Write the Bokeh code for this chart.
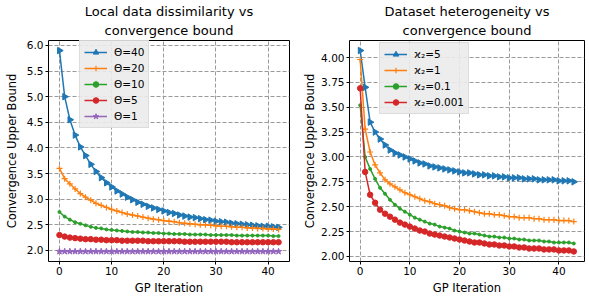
import math
from bokeh.plotting import figure
from bokeh.layouts import row
from bokeh.models import Range1d, FixedTicker, NumeralTickFormatter, Legend, LegendItem, Title
from bokeh.embed import file_html
from bokeh.resources import INLINE

# ---------------- data ----------------
iter_left = list(range(43))
theta40 = [5.90, 5.00, 4.55, 4.25, 4.02, 3.85, 3.68, 3.54, 3.42, 3.32,
           3.24, 3.16, 3.10, 3.04, 2.99, 2.94, 2.90, 2.86, 2.83, 2.80,
           2.77, 2.74, 2.72, 2.69, 2.67, 2.65, 2.64, 2.62, 2.60, 2.59,
           2.57, 2.56, 2.55, 2.53, 2.52, 2.51, 2.50, 2.49, 2.48, 2.47,
           2.47, 2.46, 2.45]
theta20 = [3.60, 3.40, 3.30, 3.20, 3.11, 3.04, 2.98, 2.92, 2.88, 2.84,
           2.80, 2.77, 2.74, 2.71, 2.69, 2.67, 2.65, 2.63, 2.61, 2.60,
           2.58, 2.57, 2.56, 2.54, 2.53, 2.52, 2.51, 2.50, 2.50, 2.49,
           2.48, 2.47, 2.47, 2.46, 2.45, 2.45, 2.44, 2.44, 2.43, 2.43,
           2.42, 2.42, 2.41]
theta10 = [2.75, 2.66, 2.60, 2.55, 2.52, 2.49, 2.46, 2.44, 2.43, 2.41,
           2.40, 2.39, 2.38, 2.37, 2.36, 2.36, 2.35, 2.35, 2.34, 2.34,
           2.33, 2.33, 2.32, 2.32, 2.32, 2.31, 2.31, 2.31, 2.31, 2.30,
           2.30, 2.30, 2.30, 2.30, 2.29, 2.29, 2.29, 2.29, 2.29, 2.29,
           2.29, 2.28, 2.28]
theta5 = [2.30, 2.27, 2.25, 2.24, 2.23, 2.22, 2.22, 2.21, 2.21, 2.20,
          2.20, 2.20, 2.19, 2.19, 2.19, 2.19, 2.19, 2.18, 2.18, 2.18,
          2.18, 2.18, 2.18, 2.18, 2.17, 2.17, 2.17, 2.17, 2.17, 2.17,
          2.17, 2.17, 2.17, 2.16, 2.16, 2.16, 2.16, 2.16, 2.16, 2.16,
          2.16, 2.16, 2.16]
theta1 = [1.98, 1.98, 1.98, 1.98, 1.98, 1.98, 1.98, 1.98, 1.98, 1.98,
          1.98, 1.98, 1.98, 1.98, 1.98, 1.98, 1.98, 1.98, 1.98, 1.98,
          1.98, 1.98, 1.98, 1.98, 1.98, 1.98, 1.98, 1.98, 1.98, 1.98,
          1.98, 1.98, 1.98, 1.98, 1.98, 1.98, 1.98, 1.98, 1.98, 1.98,
          1.98, 1.98, 1.98]
labels_left = ["Θ=40", "Θ=20", "Θ=10", "Θ=5", "Θ=1"]

iter_right = list(range(44))
kappa5 = [4.07, 3.70, 3.35, 3.25, 3.18, 3.12, 3.07, 3.04, 3.02, 3.00,
          2.98, 2.96, 2.94, 2.93, 2.91, 2.90, 2.89, 2.88, 2.87, 2.86,
          2.85, 2.84, 2.84, 2.83, 2.82, 2.82, 2.81, 2.81, 2.80, 2.80,
          2.79, 2.79, 2.79, 2.78, 2.78, 2.78, 2.77, 2.77, 2.77, 2.77,
          2.76, 2.76, 2.76, 2.75]
kappa1 = [3.98, 3.28, 3.05, 2.92, 2.84, 2.77, 2.73, 2.70, 2.67, 2.64,
          2.62, 2.60, 2.58, 2.56, 2.55, 2.53, 2.52, 2.51, 2.49, 2.48,
          2.47, 2.47, 2.46, 2.45, 2.44, 2.43, 2.43, 2.42, 2.42, 2.41,
          2.40, 2.40, 2.39, 2.39, 2.39, 2.38, 2.38, 2.37, 2.37, 2.37,
          2.36, 2.36, 2.36, 2.35]
kappa01 = [3.52, 3.00, 2.88, 2.78, 2.69, 2.63, 2.57, 2.52, 2.48, 2.45,
           2.42, 2.39, 2.37, 2.35, 2.33, 2.32, 2.30, 2.29, 2.28, 2.26,
           2.25, 2.24, 2.23, 2.23, 2.22, 2.21, 2.20, 2.20, 2.19, 2.19,
           2.18, 2.18, 2.17, 2.17, 2.16, 2.16, 2.16, 2.15, 2.15, 2.14,
           2.14, 2.14, 2.14, 2.13]
kappa0001 = [3.69, 2.85, 2.62, 2.54, 2.47, 2.43, 2.40, 2.37, 2.34, 2.32,
             2.30, 2.28, 2.26, 2.25, 2.23, 2.22, 2.21, 2.20, 2.19, 2.18,
             2.17, 2.16, 2.15, 2.14, 2.14, 2.13, 2.12, 2.12, 2.11, 2.11,
             2.10, 2.10, 2.09, 2.09, 2.08, 2.08, 2.08, 2.07, 2.07, 2.07,
             2.06, 2.06, 2.06, 2.05]
labels_right = ["ϰ₂=5", "ϰ₂=1", "ϰ₂=0.1", "ϰ₂=0.001"]

x_ticks = [0, 10, 20, 30, 40]
y_ticks_left = [2.0, 2.5, 3.0, 3.5, 4.0, 4.5, 5.0, 5.5, 6.0]
y_ticks_right = [2.00, 2.25, 2.50, 2.75, 3.00, 3.25, 3.50, 3.75, 4.00]

colors = ["#1f77b4", "#ff7f0e", "#2ca02c", "#d62728", "#9467bd"]
markers = [("triangle", 6.5, -math.pi / 2), ("cross", 6, 0), ("circle", 3, 0),
           ("circle", 5.5, 0), ("star", 6.5, 0)]

FONT = "DejaVu Sans"


def make_fig(width, bl, br, title_lines, xr, yr, yticks, yfmt, ylab_standoff):
    p = figure(width=width, height=297, output_backend="svg", toolbar_location=None,
               x_range=Range1d(*xr), y_range=Range1d(*yr), title=None,
               min_border_left=bl, min_border_right=br, min_border_top=40,
               min_border_bottom=36)
    for txt, so in ((title_lines[1], 5), (title_lines[0], 0)):
        t = Title(text=txt, align="center", text_font=FONT, text_font_size="13px",
                  text_font_style="normal", text_color="black", standoff=so,
                  text_line_height=0.75)
        p.add_layout(t, "above")
    p.outline_line_color = "black"
    p.outline_line_width = 1
    p.outline_line_alpha = 1
    for ax in p.axis:
        ax.axis_line_color = None
        ax.major_tick_out = 3
        ax.major_tick_in = 0
        ax.major_tick_line_color = "black"
        ax.minor_tick_line_color = None
        ax.major_label_text_font = FONT
        ax.major_label_text_font_size = "10.5px"
        ax.major_label_text_line_height = 1.0
        ax.major_label_text_color = "black"
        ax.axis_label_text_font = FONT
        ax.axis_label_text_font_size = "11.5px"
        ax.axis_label_text_line_height = 1.0
        ax.axis_label_text_font_style = "normal"
        ax.axis_label_text_color = "black"
    p.xaxis.major_label_standoff = 2
    p.xaxis.axis_label_standoff = 3
    p.yaxis.major_label_standoff = 2
    p.yaxis.axis_label_standoff = ylab_standoff
    p.xaxis.ticker = FixedTicker(ticks=x_ticks)
    p.yaxis.ticker = FixedTicker(ticks=yticks)
    p.yaxis.formatter = NumeralTickFormatter(format=yfmt)
    p.xaxis.axis_label = "GP Iteration"
    p.yaxis.axis_label = "Convergence Upper Bound"
    for g in (p.xgrid, p.ygrid):
        g.grid_line_color = "#9a9a9a"
        g.grid_line_dash = "4 2"
        g.grid_line_width = 1
    return p


def add_series(p, xs, series, labels, loc):
    items = []
    for i, (ys, lab) in enumerate(zip(series, labels)):
        mk, sz, ang = markers[i]
        r1 = p.line(xs, ys, line_color=colors[i], line_width=1.5)
        r2 = p.scatter(xs, ys, marker=mk, size=sz, angle=ang, fill_color=colors[i],
                       line_color=colors[i], line_width=1.2 if mk == "cross" else 1)
        items.append(LegendItem(label=lab, renderers=[r1, r2]))
    leg = Legend(items=items, location=loc)
    leg.label_text_font = FONT
    leg.label_text_font_size = "10.5px"
    leg.label_text_color = "black"
    leg.background_fill_color = "#ebebeb"
    leg.background_fill_alpha = 0.9
    leg.border_line_color = "#cccccc"
    leg.border_line_width = 1
    leg.glyph_width = 23
    leg.glyph_height = 14
    leg.label_height = 14
    leg.spacing = 2
    leg.padding = 4
    leg.margin = 0
    leg.label_standoff = 7
    p.add_layout(leg)


p1 = make_fig(300, 48, 11, ("Local data dissimilarity vs", "convergence bound"),
              (-2.1, 44.1), (1.784, 6.096), y_ticks_left, "0.0", 5)
add_series(p1, iter_left, [theta40, theta20, theta10, theta5, theta1], labels_left, (31, 133))

p2 = make_fig(289, 48, 5, ("Dataset heterogeneity vs", "convergence bound"),
              (-2.15, 45.15), (1.949, 4.171), y_ticks_right, "0.00", 1)
add_series(p2, iter_right, [kappa5, kappa1, kappa01, kappa0001], labels_right, (30, 147))

layout = row(p1, p2)
open("out.html", "w").write(file_html(layout, INLINE))
